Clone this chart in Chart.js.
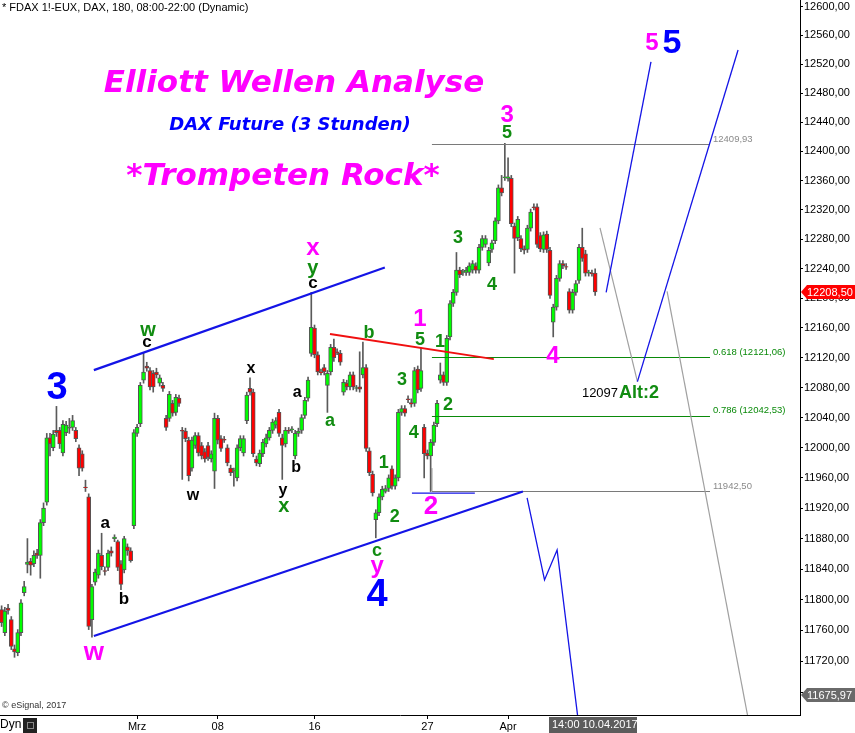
<!DOCTYPE html>
<html>
<head>
<meta charset="utf-8">
<script src="https://cdn.jsdelivr.net/npm/chart.js@4.4.1/dist/chart.umd.min.js"></script>
<style>
html,body{margin:0;padding:0;background:#fff;}
canvas{display:block;}
</style>
</head>
<body>
<canvas id="grafico_dax" width="855" height="733"></canvas>
<script>
// FDAX 3h candles, 17.02.-10.04.2017
const abertura = [11787,11757,11789,11774,11736,11731,11757,11809,11846,11850,
  11847,11861,11858,11901,11928,12013,12000,12023,12023,11993,
  12020,12026,12027,12023,12000,11992,11948,11935,11774,11823,
  11832,11858,11838,11842,11864,11880,11876,11847,11839,11869,
  11864,11897,12019,12032,12090,12109,12103,12099,12101,12086,
  12083,12039,12039,12059,12047,12066,12023,12022,12010,11973,
  12003,12016,12003,11995,12003,11985,11969,12039,12012,12011,
  12000,11973,11969,11960,12000,11993,12036,12079,12074,11985,
  11979,11992,12005,12013,12023,12030,12047,12013,12005,12023,
  12024,11989,12019,12023,12043,12066,12126,12160,12124,12101,
  12107,12083,12101,12134,12128,12126,12074,12086,12081,12097,
  12079,12081,12097,12107,11996,11965,11905,11914,11935,11942,
  11946,11972,11949,11960,12047,12052,12065,12060,12059,12105,
  12079,12027,11993,11989,12007,12032,12090,12097,12087,12148,
  12193,12208,12238,12235,12235,12235,12238,12244,12238,12269,
  12273,12248,12266,12278,12305,12350,12364,12363,12363,12298,
  12282,12281,12267,12266,12295,12324,12324,12285,12266,12287,
  12265,12168,12188,12227,12247,12243,12209,12184,12208,12224,
  12269,12260,12234,12234,12234];
const maxima = [11792,11790,11794,11778,11741,11761,11800,11824,11880,11854,
  11864,11866,11905,11927,12019,12019,12023,12055,12027,12036,
  12035,12039,12043,12027,12004,11996,11957,11939,11820,11840,
  11865,11887,11843,11865,11869,11885,11878,11851,11883,11873,
  11868,12024,12031,12087,12126,12114,12107,12103,12106,12097,
  12087,12043,12075,12063,12071,12070,12027,12026,12014,12014,
  12020,12020,12007,11999,12007,11996,12046,12043,12016,12015,
  12004,11977,11973,12004,12016,12016,12074,12093,12078,11989,
  11997,12011,12018,12027,12038,12040,12051,12018,12027,12027,
  12028,12023,12026,12044,12067,12094,12208,12164,12128,12105,
  12111,12103,12138,12145,12132,12130,12091,12090,12101,12101,
  12083,12128,12141,12111,12000,11969,11918,11939,11949,11950,
  11964,11976,11964,12051,12056,12056,12069,12065,12107,12109,
  12133,12031,11997,12011,12034,12063,12113,12101,12150,12197,
  12212,12262,12242,12239,12242,12248,12251,12248,12273,12285,
  12285,12269,12279,12309,12354,12367,12411,12391,12367,12302,
  12311,12285,12271,12299,12321,12328,12328,12289,12290,12291,
  12269,12192,12231,12251,12251,12247,12213,12212,12224,12273,
  12295,12265,12238,12238,12240];
const minima = [11765,11753,11781,11735,11725,11727,11753,11805,11835,11832,
  11843,11854,11828,11897,11924,11989,11996,12015,11999,11989,
  12016,12019,12023,12008,11963,11969,11942,11761,11751,11819,
  11828,11839,11832,11838,11857,11876,11838,11813,11835,11858,
  11849,11893,12015,12028,12086,12102,12077,12074,12093,12082,
  12075,12023,12035,12042,12043,12055,11958,12008,11956,11969,
  11999,11989,11985,11981,11983,11981,11946,12005,11995,12007,
  11976,11963,11949,11956,11996,11989,12032,12070,11988,11976,
  11975,11988,12001,12010,12019,12026,12015,11958,12001,12019,
  12020,11985,12015,12019,12039,12062,12122,12120,12097,12097,
  12097,12047,12097,12115,12124,12110,12070,12077,12077,12077,
  12075,12074,12093,11995,11963,11936,11881,11910,11931,11940,
  11942,11945,11945,11956,12043,12042,12060,12054,12055,12073,
  12075,11960,11985,11942,12003,12028,12086,12083,12083,12144,
  12189,12204,12228,12231,12231,12231,12234,12234,12234,12265,
  12269,12244,12262,12274,12301,12339,12360,12359,12297,12234,
  12278,12263,12260,12262,12291,12320,12269,12263,12262,12262,
  12200,12148,12184,12223,12240,12239,12180,12180,12204,12220,
  12250,12230,12230,12230,12204];
const fechamento = [11770,11785,11786,11739,11732,11757,11796,11817,11849,11845,
  11858,11858,11901,11920,12013,12005,12018,12020,12005,12031,
  12030,12027,12036,12012,11973,11973,11947,11765,11817,11836,
  11861,11843,11837,11861,11861,11882,11842,11820,11880,11864,
  11851,12020,12027,12083,12101,12106,12081,12081,12097,12093,
  12079,12027,12071,12046,12067,12059,12022,12012,11963,12010,
  12016,11993,11989,11985,11987,11992,12039,12010,11999,12010,
  11980,11967,11970,12000,12012,12012,12070,12074,11992,11980,
  11993,12007,12013,12023,12034,12036,12019,12003,12023,12022,
  12025,12019,12022,12040,12063,12090,12161,12124,12101,12100,
  12101,12099,12134,12120,12127,12114,12087,12081,12097,12081,
  12080,12078,12107,11999,11967,11940,11914,11935,11945,11946,
  11960,11949,11960,12047,12052,12046,12064,12058,12103,12077,
  12103,11992,11989,12007,12030,12059,12097,12087,12146,12193,
  12208,12238,12232,12236,12238,12244,12247,12238,12269,12281,
  12281,12265,12275,12305,12350,12343,12365,12365,12301,12281,
  12307,12267,12265,12295,12317,12323,12273,12267,12286,12266,
  12204,12188,12227,12247,12244,12242,12184,12208,12220,12269,
  12254,12234,12235,12233,12208.5];

// x axis: candle slot of each date label, total slots incl. empty space on the right
const rotulosX = ['Mrz','08','16','27','Apr'];
const posRotulosX = [42,67,97,132,157];
const totalSlots = 248;

// price axis (log scale in eSignal)
const ticksY = [11680,11720,11760,11800,11840,11880,11920,11960,12000,12040,12080,12120,
  12160,12200,12240,12280,12320,12360,12400,12440,12480,12520,12560,12600];
const minY = 11650.4, maxY = 12609.3;

// fibonacci / price levels
const niveis = [12409.93, 12121.06, 12042.53, 11942.50];
const textoNiveis = ['12409,93', '0.618 (12121,06)', '0.786 (12042,53)', '11942,50'];
const corNiveis = ['#8a8a8a', '#0a8a0a', '#0a8a0a', '#8a8a8a'];
const ultimoPreco = 12208.50;
const minimoTela = 11675.97;

// wave count lines: [slot, price] pairs
const linhas = [
  {p: [[28.6,12103.5],[118.8,12241.7]], cor: '#1414e6', w: 2.2},
  {p: [[28.6,11752.6],[161.6,11942.0]], cor: '#1414e6', w: 2.2},
  {p: [[101.8,12151.8],[152.6,12118.2]], cor: '#f01010', w: 2},
  {p: [[127.2,11940.0],[146.7,11940.0]], cor: '#1414e6', w: 1.2},
  {p: [[133.4,11973],[133.4,11942.5]], cor: '#8a8a8a', w: 1},
  {p: [[185.5,12295.4],[197.1,12088.0]], cor: '#a0a0a0', w: 1.2},
  {p: [[206.3,12209.5],[232.4,11624.7]], cor: '#a0a0a0', w: 1.2},
  {p: [[187.4,12208.1],[201.3,12523.4]], cor: '#1414e6', w: 1.3},
  {p: [[197.1,12088.0],[228.3,12539.8]], cor: '#1414e6', w: 1.3},
  {p: [[162.9,11933.5],[168.3,11825.8],[172.2,11865.0],[179.3,11624.7]], cor: '#1414e6', w: 1.3}
];

// wave labels: [slot, price, text, colour, size]
const MAG = '#ff00ff', AZUL = '#0000ff', VERDE = '#118c11', PRETO = '#000000';
const ondas = [
  [17.2,12079,'3',AZUL,38], [116.4,11805,'4',AZUL,38], [207.8,12548,'5',AZUL,34],
  [28.6,11731,'w',MAG,26], [96.5,12267,'x',MAG,24], [116.4,11844,'y',MAG,24],
  [129.7,12171,'1',MAG,24], [133.1,11922,'2',MAG,26], [156.7,12450,'3',MAG,24],
  [170.9,12122,'4',MAG,24], [201.6,12549,'5',MAG,24],
  [45.4,12157,'w',VERDE,20], [96.5,12240,'y',VERDE,20], [87.5,11922,'x',VERDE,20],
  [101.8,12036,'a',VERDE,18], [113.9,12153,'b',VERDE,18], [116.4,11864,'c',VERDE,18],
  [118.5,11980,'1',VERDE,18], [121.9,11908,'2',VERDE,18], [124.1,12090,'3',VERDE,18],
  [127.8,12019,'4',VERDE,18], [129.7,12144,'5',VERDE,18], [135.9,12141,'1',VERDE,18],
  [138.4,12057,'2',VERDE,18], [141.5,12281,'3',VERDE,18], [152.0,12218,'4',VERDE,18],
  [156.7,12425,'5',VERDE,18],
  [32.1,11900,'a',PRETO,17], [37.9,11800,'b',PRETO,17], [45.1,12141,'c',PRETO,17],
  [77.3,12106,'x',PRETO,16], [59.3,11936,'w',PRETO,16], [91.6,12073,'a',PRETO,16],
  [91.3,11973,'b',PRETO,16], [87.2,11943,'y',PRETO,16], [96.5,12220,'c',PRETO,17]
];

const categorias = [];
for (let i = 0; i < totalSlots; i++) {
  const k = posRotulosX.indexOf(i);
  categorias.push(k >= 0 ? rotulosX[k] : '');
}
const pavios = minima.map((m, i) => [m, maxima[i]]);
const corpos = abertura.map((a, i) => a === fechamento[i] ? [a, a + 1] : [a, fechamento[i]]);
const coresCorpo = abertura.map((a, i) => fechamento[i] >= a ? '#00ff00' : '#ff0000');

const fmt = v => v.toFixed(2).replace('.', ',');

const desenhos = {
  id: 'desenhos',
  afterDatasetsDraw(chart) {
    const ctx = chart.ctx, xs = chart.scales.x, ys = chart.scales.y, a = chart.chartArea;
    const P = (i, p) => [xs.getPixelForValue(i), ys.getPixelForValue(p)];
    ctx.save();
    ctx.beginPath();
    ctx.rect(a.left, a.top, a.right - a.left, a.bottom - a.top);
    ctx.clip();
    // level lines
    niveis.forEach((n, k) => {
      const [x1, y] = P(133.4, n), [x2] = P(219.6, n);
      ctx.strokeStyle = k === 1 || k === 2 ? '#0a8a0a' : '#7a7a7a';
      ctx.lineWidth = 1;
      ctx.beginPath(); ctx.moveTo(x1, Math.round(y) + 0.5); ctx.lineTo(x2, Math.round(y) + 0.5); ctx.stroke();
      ctx.font = '9.5px "Liberation Sans"';
      ctx.fillStyle = corNiveis[k];
      ctx.textAlign = 'left'; ctx.textBaseline = 'middle';
      ctx.fillText(textoNiveis[k], x2 + 3, y - 5);
    });
    linhas.forEach(l => {
      ctx.strokeStyle = l.cor; ctx.lineWidth = l.w;
      ctx.beginPath();
      l.p.forEach((pt, j) => { const [x, y] = P(pt[0], pt[1]); j ? ctx.lineTo(x, y) : ctx.moveTo(x, y); });
      ctx.stroke();
    });
    ctx.textAlign = 'center'; ctx.textBaseline = 'middle';
    ondas.forEach(o => {
      const [x, y] = P(o[0], o[1]);
      ctx.font = 'bold ' + o[4] + 'px "Liberation Sans"';
      ctx.fillStyle = o[3];
      ctx.fillText(o[2], x, y);
    });
    const [xa, ya] = P(191.1, 12072.6);
    ctx.font = '13px "Liberation Sans"'; ctx.fillStyle = '#000'; ctx.textAlign = 'right';
    ctx.fillText('12097', xa, ya);
    ctx.font = 'bold 18px "Liberation Sans"'; ctx.fillStyle = VERDE; ctx.textAlign = 'left';
    ctx.fillText('Alt:2', xa + 1, ya);
    ctx.restore();
  },
  afterDraw(chart) {
    const ctx = chart.ctx, ys = chart.scales.y, a = chart.chartArea;
    ctx.save();
    // titles
    ctx.textAlign = 'center'; ctx.textBaseline = 'alphabetic';
    ctx.fillStyle = MAG;
    ctx.font = 'oblique bold 31px "DejaVu Sans"';
    ctx.fillText('Elliott Wellen Analyse', 294, 92);
    ctx.fillText('*Trompeten Rock*', 283, 185);
    ctx.fillStyle = AZUL;
    ctx.font = 'oblique bold 18px "DejaVu Sans"';
    ctx.fillText('DAX Future (3 Stunden)', 290, 130);
    // header & footer
    ctx.textAlign = 'left'; ctx.textBaseline = 'middle';
    ctx.fillStyle = '#000'; ctx.font = '11px "Liberation Sans"';
    ctx.fillText('* FDAX 1!-EUX, DAX, 180, 08:00-22:00 (Dynamic)', 2, 8);
    ctx.fillStyle = '#333'; ctx.font = '9px "Liberation Sans"';
    ctx.fillText('\u00a9 eSignal, 2017', 2, 706);
    ctx.fillStyle = '#000'; ctx.font = '12px "Liberation Sans"';
    ctx.fillText('Dyn', 0, 725);
    ctx.fillStyle = '#222'; ctx.fillRect(23, 718, 14, 15);
    ctx.strokeStyle = '#888'; ctx.lineWidth = 1;
    ctx.strokeRect(27.5, 722.5, 6, 6);
    // time stamp box
    ctx.fillStyle = '#5c5c5c'; ctx.fillRect(549, 717, 88, 16);
    ctx.fillStyle = '#fff'; ctx.font = '11px "Liberation Sans"';
    ctx.fillText('14:00 10.04.2017', 552, 725);
    // price flags on the axis
    const flag = (v, bg) => {
      const y = Math.round(ys.getPixelForValue(v));
      ctx.fillStyle = bg;
      ctx.beginPath();
      ctx.moveTo(a.right + 1, y);
      ctx.lineTo(a.right + 7, y - 7);
      ctx.lineTo(855, y - 7);
      ctx.lineTo(855, y + 7);
      ctx.lineTo(a.right + 7, y + 7);
      ctx.closePath(); ctx.fill();
      ctx.fillStyle = '#fff'; ctx.font = '11px "Liberation Sans"';
      ctx.fillText(fmt(v), a.right + 7, y + 0.5);
    };
    flag(ultimoPreco, '#ff0000');
    flag(minimoTela, '#6a6a6a');
    ctx.restore();
  }
};

new Chart(document.getElementById('grafico_dax'), {
  type: 'bar',
  data: {
    labels: categorias,
    datasets: [{
      label: 'Pavio',
      data: pavios,
      backgroundColor: '#5a5a5a',
      barThickness: 1,
      grouped: false,
      order: 2
    }, {
      label: 'Corpo',
      data: corpos,
      backgroundColor: coresCorpo,
      borderColor: '#555555',
      borderWidth: 1,
      borderSkipped: false,
      barThickness: 4,
      grouped: false,
      order: 1
    }]
  },
  options: {
    responsive: false,
    animation: false,
    layout: {padding: 0},
    plugins: {legend: {display: false}, tooltip: {enabled: false}},
    scales: {
      x: {
        type: 'category',
        afterFit: s => { s.height = 18; s.paddingLeft = 0; s.paddingRight = 0; },
        border: {display: true, color: '#000', width: 1},
        grid: {
          offset: false, drawOnChartArea: false, drawTicks: true, tickLength: 4,
          color: c => (c.tick && c.tick.label) ? '#000' : 'rgba(0,0,0,0)'
        },
        ticks: {autoSkip: false, maxRotation: 0, padding: 1, color: '#000', font: {family: 'Liberation Sans', size: 11}}
      },
      y: {
        type: 'logarithmic',
        position: 'right',
        min: minY,
        max: maxY,
        afterBuildTicks: s => { s.ticks = ticksY.map(v => ({value: v})); },
        afterFit: s => { s.width = 55; s.paddingTop = 0; s.paddingBottom = 0; },
        border: {display: true, color: '#000', width: 1},
        grid: {drawOnChartArea: false, drawTicks: true, tickLength: 3, color: '#000'},
        ticks: {
          padding: 1, color: '#000',
          font: {family: 'Liberation Sans', size: 11},
          callback: v => v < 11700 ? '' : fmt(v)
        }
      }
    }
  },
  plugins: [desenhos]
});
</script>
</body>
</html>
